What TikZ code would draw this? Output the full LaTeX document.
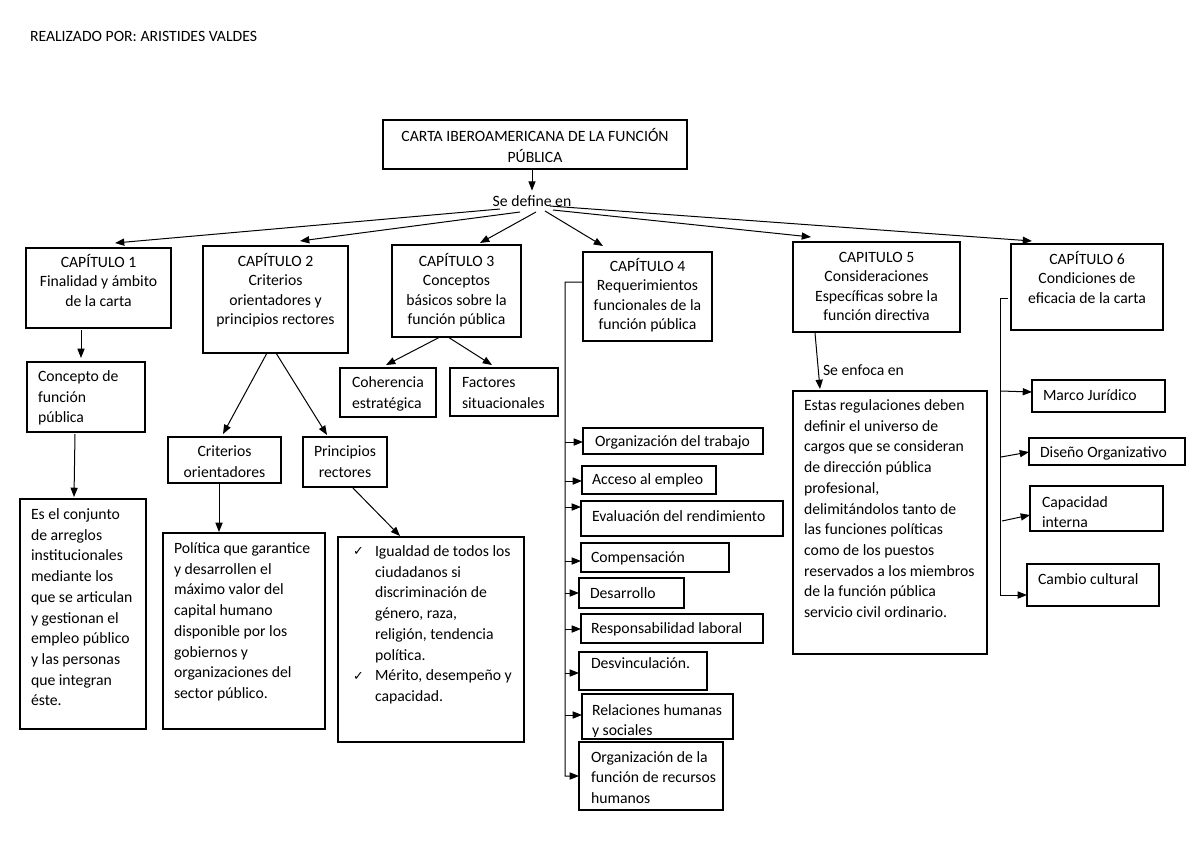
\documentclass[tikz,border=0pt]{standalone}
\usepackage{fontspec}
\setmainfont{Carlito}
\newfontfamily\symfont{DejaVu Sans}
\usetikzlibrary{arrows.meta,calc,fit}
\newcommand{\bx}[3]{\node[boxst, fit={#2 #3}] (#1) {};}
\begin{document}
\begin{tikzpicture}[x=0.7pt,y=-0.7pt,
  every node/.style={inner sep=0pt, outer sep=0pt, font=\fontsize{11pt}{14.5pt}\selectfont},
  boxst/.style={draw=black, line width=0.75pt, rectangle, inner sep=0pt},
  chapt/.style={align=flush center, anchor=base, font=\fontsize{11pt}{13.5pt}\selectfont},
  ctext/.style={align=flush center, anchor=base},
  ltext/.style={align=flush left, anchor=base west, text width=200pt},
  arr/.style={-{Triangle[length=6.5pt,width=5pt]}, line width=0.7pt},
  ln/.style={line width=0.7pt}]
\fill[white] (0,0) rectangle (1200,849);
\useasboundingbox (0,0) rectangle (1200,849);

% header
\node[anchor=base west] (hdr) at (30,41.5) {REALIZADO POR: ARISTIDES VALDES};

% title
\bx{ti}{(383,120)}{(687,169)}
\node[ctext, text width=210pt] (tit) at (535,141.5) {CARTA IBEROAMERICANA DE LA FUNCIÓN\\PÚBLICA};
\node[anchor=base] (sd) at (532,206.5) {Se define en};
\draw[arr] (ti.south -| sd.north) -- ($(sd.north)+(0,-5)$);

% chapters
\bx{c1}{(26,248)}{(171,328)}
\node[chapt, text width=101pt] (c1t) at (98.5,267.5) {CAPÍTULO 1\\Finalidad y ámbito\\de la carta};
\bx{c2}{(203,246)}{(348,353)}
\node[chapt, text width=101pt] (c2t) at (275.5,266.5) {CAPÍTULO 2\\Criterios\\orientadores y\\principios rectores};
\bx{c3}{(392,245)}{(521,337)}
\node[chapt, text width=90pt] (c3t) at (456.5,266.5) {CAPÍTULO 3\\Conceptos\\básicos sobre la\\función pública};
\bx{c4}{(583,252)}{(712,341)}
\node[chapt, text width=90pt] (c4t) at (647.5,271.5) {CAPÍTULO 4\\Requerimientos\\funcionales de la\\función pública};
\bx{c5}{(793,242)}{(960,332)}
\node[chapt, text width=116pt] (c5t) at (876.5,262.5) {CAPITULO 5\\Consideraciones\\Específicas sobre la\\función directiva};
\bx{c6}{(1011,244)}{(1163,330)}
\node[chapt, text width=106pt] (c6t) at (1087,264.5) {CAPÍTULO 6\\Condiciones de\\eficacia de la carta};

% lines from "Se define en"
\coordinate (s1) at (500,209);
\coordinate (s2) at (520,212);
\coordinate (s3) at (536,212);
\coordinate (s4) at (545,211);
\coordinate (s5) at (553,210);
\coordinate (s6) at (550,206);
\draw[arr] (s1) -- ($(c1.north west)+(89,-5)$);
\draw[arr] (s2) -- ($(c2.north west)+(97,-5)$);
\draw[arr] (s3) -- ($(c3.north west)+(88,-2)$);
\draw[arr] (s4) -- ($(c4.north west)+(20,-6)$);
\draw[arr] (s5) -- ($(c5.north west)+(18,-5)$);
\draw[arr] (s6) -- ($(c6.north west)+(21,-3)$);

% chapter 1
\bx{con}{(27,362)}{(145,432)}
\node[ltext] (cont) at (38,381.5) {Concepto de\\función\\pública};
\bx{es}{(20,499)}{(146,729)}
\node[ltext] (est) at (31,519.5) {Es el conjunto\\de arreglos\\institucionales\\mediante los\\que se articulan\\y gestionan el\\empleo público\\y las personas\\que integran\\éste.};
\draw[arr] ($(c1.south west)+(55,2)$) -- ($(con.north west)+(54,-4)$);
\draw[arr] ($(con.south west)+(48,2)$) -- ($(es.north west)+(54,-2)$);

% chapter 2
\bx{cri}{(168,437)}{(281,483)}
\node[ctext, text width=77pt] (crit) at (224.5,456.5) {Criterios\\orientadores};
\bx{pri}{(303,437)}{(387,487)}
\node[ctext, text width=58pt] (prit) at (345,456.5) {Principios\\rectores};
\draw[arr] ($(c2.south west)+(64,0)$) -- ($(cri.north west)+(55,-3)$);
\draw[arr] ($(c2.south west)+(73,0)$) -- ($(pri.north west)+(24,-2)$);
\bx{pol}{(163,533)}{(325,729)}
\node[ltext] (polt) at (174,553.5) {Política que garantice\\y desarrollen el\\máximo valor del\\capital humano\\disponible por los\\gobiernos y\\organizaciones del\\sector público.};
\bx{ig}{(338,537)}{(524,742)}
\node[ltext] (igt) at (375,556.5) {Igualdad de todos los\\ciudadanos si\\discriminación de\\género, raza,\\religión, tendencia\\política.\\Mérito, desempeño y\\capacidad.};
\node[anchor=base west, font=\symfont\fontsize{9pt}{10pt}\selectfont] (ck1) at (353,555.5) {✓};
\node[anchor=base west, font=\symfont\fontsize{9pt}{10pt}\selectfont] (ck2) at (353,680) {✓};
\draw[arr] ($(cri.south west)+(51,0)$) -- ($(pol.north west)+(56,-1)$);
\draw[arr] ($(pri.south west)+(49,0)$) -- ($(ig.north west)+(62,-1)$);

% chapter 3
\bx{coh}{(340,368)}{(436,417)}
\node[ltext] (coht) at (352,387.5) {Coherencia\\estratégica};
\bx{fac}{(450,368)}{(558,416)}
\node[ltext] (fact) at (462,387.5) {Factores\\situacionales};
\draw[arr] ($(c3.south west)+(48,0)$) -- ($(coh.north west)+(46,-3)$);
\draw[arr] ($(c3.south west)+(56,0)$) -- ($(fac.north west)+(42,-3)$);

% chapter 4
\bx{r1}{(583,428)}{(763,454)}
\node[ltext] (r1t) at (595,446.5) {Organización del trabajo};
\bx{r2}{(582,466)}{(716,494)}
\node[ltext] (r2t) at (592,484.5) {Acceso al empleo};
\bx{r3}{(581,501)}{(783,536)}
\node[ltext] (r3t) at (592,521.5) {Evaluación del rendimiento};
\bx{r4}{(581,543)}{(729,572)}
\node[ltext] (r4t) at (591,562.5) {Compensación};
\bx{r5}{(579,578)}{(684,608)}
\node[ltext] (r5t) at (590,598.5) {Desarrollo};
\bx{r6}{(581,614)}{(763,643)}
\node[ltext] (r6t) at (591,633.5) {Responsabilidad laboral};
\bx{r7}{(579,652)}{(707,690)}
\node[ltext] (r7t) at (591,668.5) {Desvinculación.};
\bx{r8}{(582,694)}{(733,739)}
\begin{scope}
\clip ($(r8.north west)$) rectangle ($(r8.south east)+(10,-3)$);
\node[ltext, font=\fontsize{11pt}{14pt}\selectfont] (r8t) at (592,715) {Relaciones humanas\\y sociales};
\end{scope}
\bx{r9}{(579,742)}{(723,810)}
\node[ltext] (r9t) at (591,762) {Organización de la\\función de recursos\\humanos};
\coordinate (b4) at (565,282);
\draw[arr] ($(c4.north west)+(0,30)$) -- (b4) |- ($(r9.north west)+(0,34)$);
\draw[arr] ($(b4 |- r1.north west)+(0,14)$) -- ($(r1.north west)+(0,14)$);
\draw[arr] ($(b4 |- r2.north west)+(0,15)$) -- ($(r2.north west)+(0,15)$);
\draw[arr] ($(b4 |- r3.north west)+(0,6)$) -- ($(r3.north west)+(0,6)$);
\draw[arr] ($(b4 |- r4.north west)+(0,18)$) -- ($(r4.north west)+(0,18)$);
\draw[arr] ($(b4 |- r5.north west)+(0,15)$) -- ($(r5.north west)+(0,15)$);
\draw[arr] ($(b4 |- r6.north west)+(0,15)$) -- ($(r6.north west)+(0,15)$);
\draw[arr] ($(b4 |- r7.north west)+(0,21)$) -- ($(r7.north west)+(0,21)$);
\draw[arr] ($(b4 |- r8.north west)+(0,21)$) -- ($(r8.north west)+(0,21)$);

% chapter 5
\bx{ea}{(793,391)}{(987,654)}
\node[ltext] (eat) at (804,410.5) {Estas regulaciones deben\\definir el universo de\\cargos que se consideran\\de dirección pública\\profesional,\\delimitándolos tanto de\\las funciones políticas\\como de los puestos\\reservados a los miembros\\de la función pública\\servicio civil ordinario.};
\draw[arr] ($(c5.south west)+(22,1)$) -- ($(ea.north west)+(27,-2)$);
\node[anchor=base west] (enf) at (823,375.5) {Se enfoca en};

% chapter 6
\bx{m1}{(1032,380)}{(1165,412)}
\node[ltext] (m1t) at (1043,400.5) {Marco Jurídico};
\bx{m2}{(1029,438)}{(1185,465)}
\node[ltext] (m2t) at (1040,457.5) {Diseño Organizativo};
\bx{m3}{(1030,486)}{(1163,531)}
\begin{scope}
\clip (m3.north west) rectangle ($(m3.south east)+(0,-4)$);
\node[ltext] (m3t) at (1042,507) {Capacidad\\interna};
\end{scope}
\bx{m4}{(1027,564)}{(1159,606)}
\node[ltext] (m4t) at (1038,584.5) {Cambio cultural};
\coordinate (b6) at (1000,298);
\draw[arr] ($(c6.west |- b6)+(-3,0)$) -- (b6) |- ($(m4.north west)+(0,31)$);
\draw[arr] ($(b6 |- m1.north west)+(1,11)$) -- ($(m1.north west)+(0,12)$);
\draw[arr] ($(b6 |- m2.north west)+(1,19)$) -- ($(m2.north west)+(0,14)$);
\draw[arr] ($(b6 |- m3.north west)+(2,35)$) -- ($(m3.north west)+(0,29)$);
\end{tikzpicture}
\end{document}
